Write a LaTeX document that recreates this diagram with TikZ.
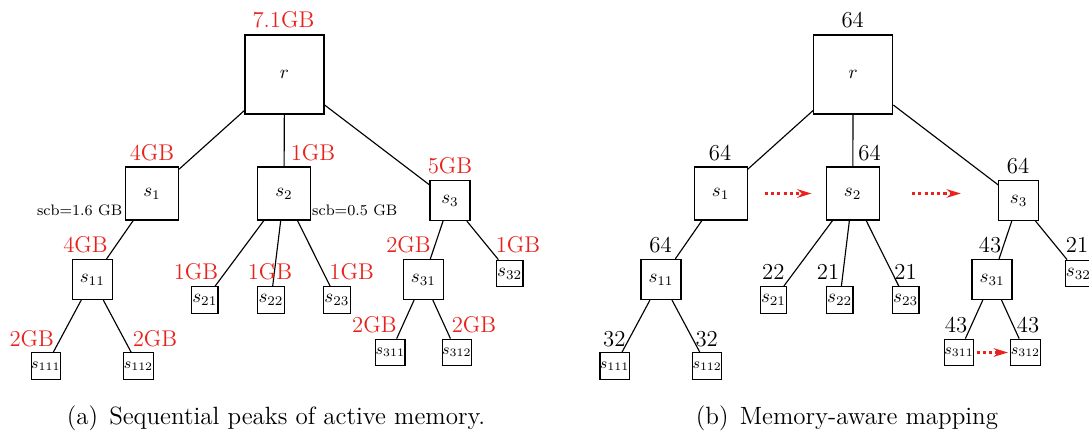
\documentclass[tikz,border=0pt]{standalone}
\usetikzlibrary{arrows.meta}
\definecolor{lblred}{RGB}{232,35,30}
\tikzset{
  nbox/.style={draw, line width=0.65pt, inner sep=0pt},
  bigbox/.style={nbox, minimum size=41.6pt},
  midbox/.style={nbox, minimum size=27.9pt},
  smlbox/.style={nbox, minimum size=21.05pt},
  tinybox/.style={nbox, minimum size=13.95pt},
  edge/.style={line width=0.6pt},
  rlbl/.style={text=lblred, font=\large, anchor=base, inner sep=0pt},
  klbl/.style={text=black, font=\large, anchor=base, inner sep=0pt},
  scblbl/.style={font=\footnotesize, anchor=base, inner sep=0pt},
  caplbl/.style={font=\fontsize{13.15pt}{15.5pt}\selectfont, anchor=base, inner sep=0pt},
  redarr/.style={draw=lblred, line width=1.6pt, dash pattern=on 1.6pt off 1.7pt,
    -{Stealth[length=7.5pt,width=4.5pt]}},
}
\newcommand{\mytree}[1]{%
  \node[bigbox] (#1r) at (284.5,74.5) {$r$};
  \node[midbox] (#1s1) at (152,193.5) {$s_1$};
  \node[midbox] (#1s2) at (284,193.5) {$s_2$};
  \node[smlbox] (#1s3) at (450,200.5) {$s_3$};
  \node[smlbox] (#1s11) at (92.3,279.5) {$s_{11}$};
  \node[tinybox] (#1s21) at (204.8,300) {$s_{21}$};
  \node[tinybox] (#1s22) at (271,300) {$s_{22}$};
  \node[tinybox] (#1s23) at (337,300) {$s_{23}$};
  \node[smlbox] (#1s31) at (423.4,279.5) {$s_{31}$};
  \node[tinybox] (#1s32) at (509.7,273.5) {$s_{32}$};
  \node[tinybox,font=\footnotesize] (#1s111) at (45.9,366) {$s_{111}$};
  \node[tinybox,font=\footnotesize] (#1s112) at (138.5,366) {$s_{112}$};
  \node[tinybox,font=\footnotesize] (#1s311) at (390.4,352.5) {$s_{311}$};
  \node[tinybox,font=\footnotesize] (#1s312) at (456.8,352.5) {$s_{312}$};
  \draw[edge] (#1r) -- (#1s1);
  \draw[edge] (#1r) -- (#1s2);
  \draw[edge] (#1r) -- (#1s3);
  \draw[edge] (#1s1) -- (#1s11);
  \draw[edge] (#1s11) -- (#1s111);
  \draw[edge] (#1s11) -- (#1s112);
  \draw[edge] (#1s2) -- (#1s21);
  \draw[edge] (#1s2) -- (#1s22);
  \draw[edge] (#1s2) -- (#1s23);
  \draw[edge] (#1s3) -- (#1s31);
  \draw[edge] (#1s3) -- (#1s32);
  \draw[edge] (#1s31) -- (#1s311);
  \draw[edge] (#1s31) -- (#1s312);
}
\begin{document}
\begin{tikzpicture}[x=0.5263pt,y=-0.5263pt]
\clip (0,0) rectangle (1089,434);
% panel (a)
\mytree{a}
\node[rlbl] (la0) at (283.5,28) {7.1GB};
\node[rlbl] (la1) at (152,161) {4GB};
\node[rlbl] (la2) at (313,161) {1GB};
\node[rlbl] (la3) at (450,174) {5GB};
\node[rlbl] (la4) at (85.5,253) {4GB};
\node[rlbl] (la5) at (196,280) {1GB};
\node[rlbl] (la6) at (270,280) {1GB};
\node[rlbl] (la7) at (351.6,280) {1GB};
\node[rlbl] (la8) at (408.5,253) {2GB};
\node[rlbl] (la9) at (518,253) {1GB};
\node[rlbl] (la10) at (31.8,347) {2GB};
\node[rlbl] (la11) at (155,347) {2GB};
\node[rlbl] (la12) at (374.4,333) {2GB};
\node[rlbl] (la13) at (474,333) {2GB};
\node[scblbl] (scb1) at (79.6,216) {scb=1.6 GB};
\node[scblbl] (scb2) at (354.8,216) {scb=0.5 GB};
\node[caplbl] (capa) at (276,425) {(a)\hspace{0.45em}Sequential peaks of active memory.};
% panel (b)
\begin{scope}[shift={(568.7,0)}]
\mytree{b}
\end{scope}
\node[klbl] (lb0) at (852.7,28) {64};
\node[klbl] (lb1) at (720,161) {64};
\node[klbl] (lb2) at (869.5,161) {64};
\node[klbl] (lb3) at (1018,174) {64};
\node[klbl] (lb4) at (660.5,253) {64};
\node[klbl] (lb5) at (773.4,280) {22};
\node[klbl] (lb6) at (828,280) {21};
\node[klbl] (lb7) at (905.5,280) {21};
\node[klbl] (lb8) at (990,253) {43};
\node[klbl] (lb9) at (1077,253) {21};
\node[klbl] (lb10) at (614.4,347) {32};
\node[klbl] (lb11) at (706.7,347) {32};
\node[klbl] (lb12) at (956,333) {43};
\node[klbl] (lb13) at (1028,333) {43};
\draw[redarr, shorten <=8.9pt, shorten >=7.4pt] (bs1.east) -- (bs2.west);
\draw[redarr, shorten <=17pt, shorten >=19.6pt] (bs2.east) -- (bs2.east -| bs3.west);
\draw[redarr, shorten <=1.2pt, shorten >=1.2pt] (bs311.east) -- (bs312.west);
\node[caplbl] (capb) at (847,425) {(b)\hspace{0.45em}Memory-aware mapping};
\end{tikzpicture}
\end{document}
